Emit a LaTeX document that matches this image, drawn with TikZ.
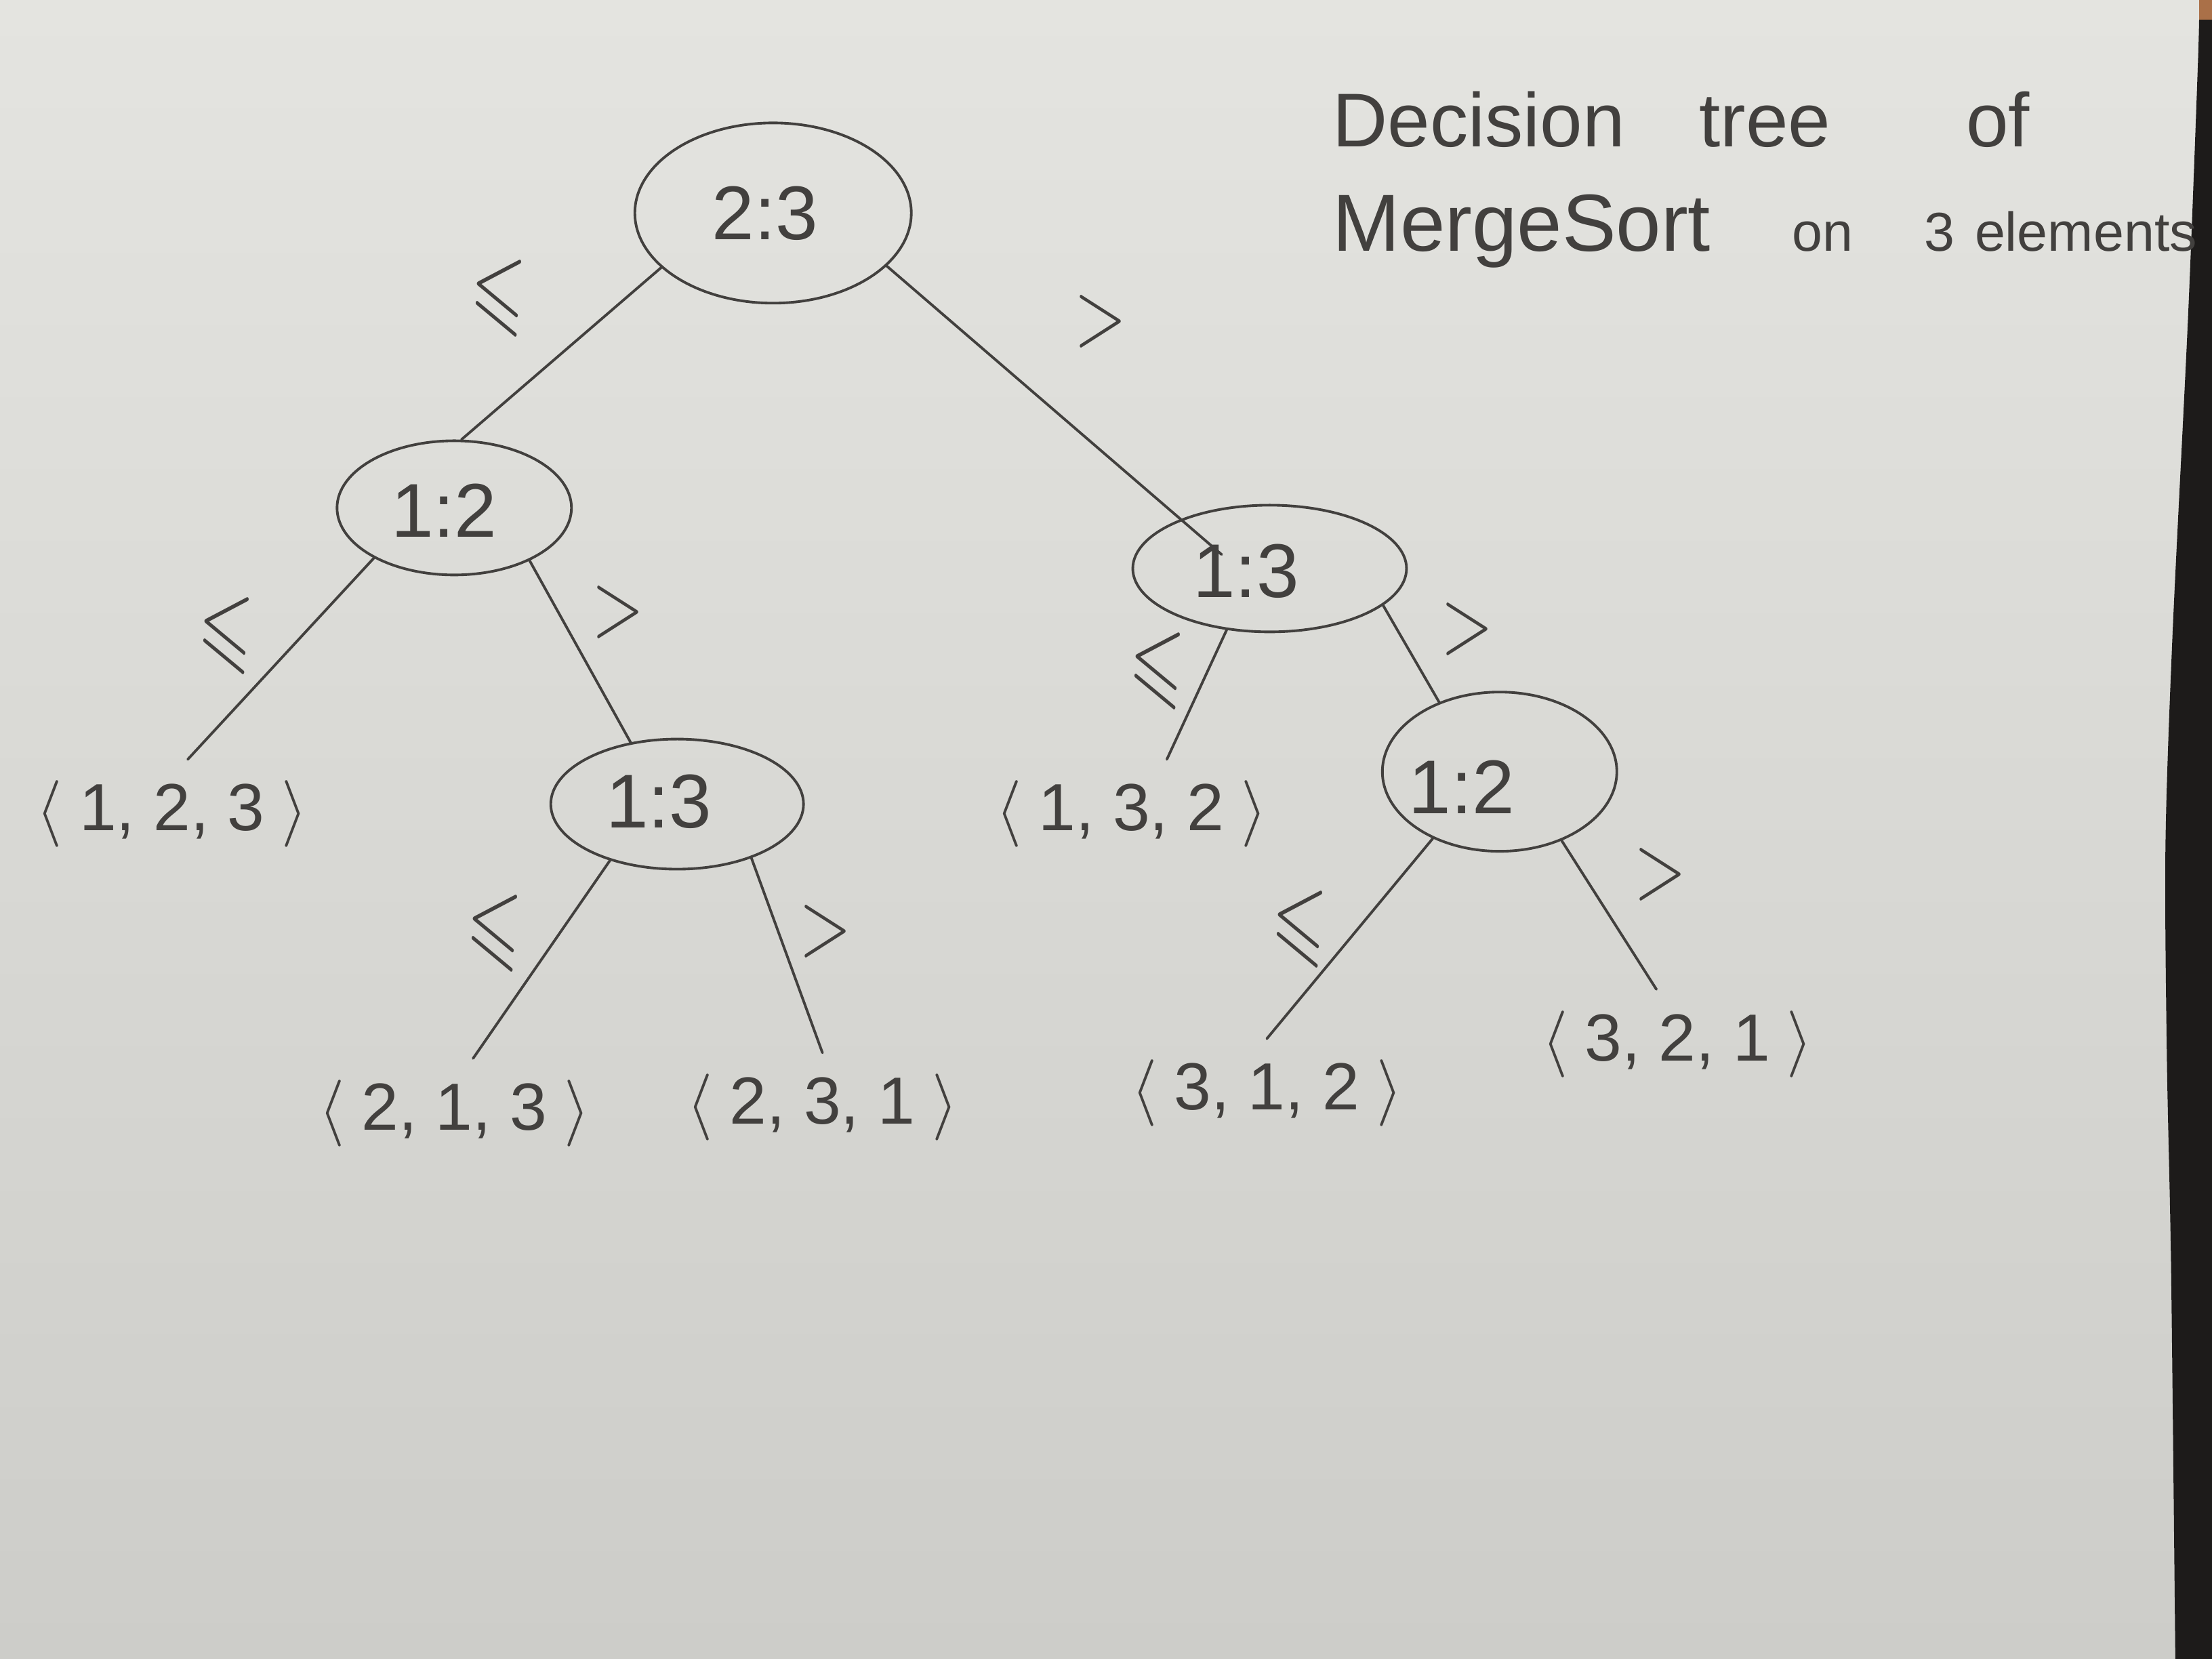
\documentclass[tikz,border=0pt]{standalone}
\usepackage{fix-cm}
\usepackage{amssymb}
\usepackage{fontspec}
\setmainfont{Liberation Sans}
\usetikzlibrary{shapes.geometric}

\definecolor{pencil}{RGB}{66,64,62}
\definecolor{papertop}{RGB}{228,228,224}
\definecolor{paperbot}{RGB}{205,205,201}
\definecolor{desk}{RGB}{29,27,26}
\definecolor{wood}{RGB}{170,112,72}

\newcommand{\ordering}[1]{$\langle$\hspace{0.25cm}#1\hspace{0.25cm}$\rangle$}

\begin{document}
\begin{tikzpicture}[x=0.2082mm, y=-0.2082mm, thick]
                % 0. The sheet of paper and the desk behind it
                \useasboundingbox (0,0) rectangle (1568,1176);
                \shade[top color=papertop, bottom color=paperbot] (0,0) rectangle (1568,1176);
                \fill[desk] plot[smooth] coordinates {(1559,0) (1558,45) (1551,225) (1540,450)
                    (1535,600) (1536,750) (1539,900) (1542,1176)} -- (1568,1176) -- (1568,0) -- cycle;
                \fill[wood] (1559,0) rectangle (1568,14);

                % 1. Styles
                \tikzstyle{Decide} = [ellipse, draw=pencil, line width=1.1pt, inner sep=0pt]
                \tikzstyle{Cmp} = [text=pencil, font=\fontsize{32}{38}\selectfont]
                \tikzstyle{Leaf} = [text=pencil, inner sep=0.3cm, font=\fontsize{28}{34}\selectfont]
                \tikzstyle{LeqMark} = [text=pencil, font=\fontsize{42}{48}\selectfont, xscale=0.7, rotate=-5]
                \tikzstyle{GtMark} = [text=pencil, font=\fontsize{40}{46}\selectfont, xscale=0.72]
                \tikzstyle{Branch} = [draw=pencil, line width=1.1pt, line cap=round]

                % 2. Comparison nodes
                \node[Decide, minimum width=4.08cm, minimum height=2.66cm,
                    label={[Cmp, xshift=-0.12cm]center:{2:3}}] (n23) at (548,151) {};
                \node[Decide, minimum width=3.46cm, minimum height=1.98cm,
                    label={[Cmp, xshift=-0.15cm, yshift=-0.04cm]center:{1:2}}] (n12) at (322,360) {};
                \node[Decide, minimum width=4.04cm, minimum height=1.87cm,
                    label={[Cmp, xshift=-0.35cm, yshift=-0.04cm]center:{1:3}}] (n13) at (900,403) {};
                \node[Decide, minimum width=3.73cm, minimum height=1.92cm,
                    label={[Cmp, xshift=-0.27cm, yshift=0.04cm]center:{1:3}}] (n13b) at (480,570) {};
                \node[Decide, minimum width=3.46cm, minimum height=2.35cm,
                    label={[Cmp, xshift=-0.56cm, yshift=-0.23cm]center:{1:2}}] (n12b) at (1063,547) {};

                % 3. Leaves (sorted orders)
                \node[Leaf] (p123) at (122,577) {\ordering{1, 2, 3}};
                \node[Leaf] (p132) at (802,577) {\ordering{1, 3, 2}};
                \node[Leaf] (p213) at (322,789) {\ordering{2, 1, 3}};
                \node[Leaf] (p231) at (583,785) {\ordering{2, 3, 1}};
                \node[Leaf] (p312) at (898,775) {\ordering{3, 1, 2}};
                \node[Leaf] (p321) at (1189,740) {\ordering{3, 2, 1}};

                % 4. Branches
                \draw[Branch] (n23.206) -- (n12.84);                        % root, left
                \draw[Branch, shorten >=-0.8cm] (n23.-25) -- (n13.151);     % root, right
                \draw[Branch] (n12.212) -- (p123.74);
                \draw[Branch] (n12.325) -- (n13b.127);
                \draw[Branch] (n13.235) -- (p132.57);
                \draw[Branch] (n13.342) -- (n12b.131);
                \draw[Branch] (n13b.220) -- (p213.71);
                \draw[Branch] (n13b.324) -- (p231.north);
                \draw[Branch] (n12b.225) -- (p312.north);
                \draw[Branch] (n12b.312) -- (p321.111);

                % 5. Branch marks
                \node[LeqMark] (le1) at (353,210) {$\leqslant$};
                \node[GtMark]  (gt1) at (780,228) {$>$};
                \node[LeqMark] (le2) at (160,449) {$\leqslant$};
                \node[GtMark]  (gt2) at (438,434) {$>$};
                \node[LeqMark] (le3) at (820,474) {$\leqslant$};
                \node[GtMark]  (gt3) at (1040,446) {$>$};
                \node[LeqMark] (le4) at (350,660) {$\leqslant$};
                \node[GtMark]  (gt4) at (585,660) {$>$};
                \node[LeqMark] (le5) at (921,657) {$\leqslant$};
                \node[GtMark]  (gt5) at (1177,620) {$>$};

                % 6. Caption
                \node[anchor=base west, inner sep=0pt, text=pencil, font=\fontsize{32}{38}\selectfont]
                    (cap1) at (944,104) {Decision\hspace{1.1cm}tree\hspace{2cm}of};
                \node[anchor=base west, inner sep=0pt, text=pencil, font=\fontsize{34}{40}\selectfont]
                    (cap2) at (944,178) {MergeSort\hspace{1.2cm}{\fontsize{23}{28}\selectfont on\hspace{1.05cm}3\hspace{0.3cm}elements}};

            \end{tikzpicture}
\end{document}
